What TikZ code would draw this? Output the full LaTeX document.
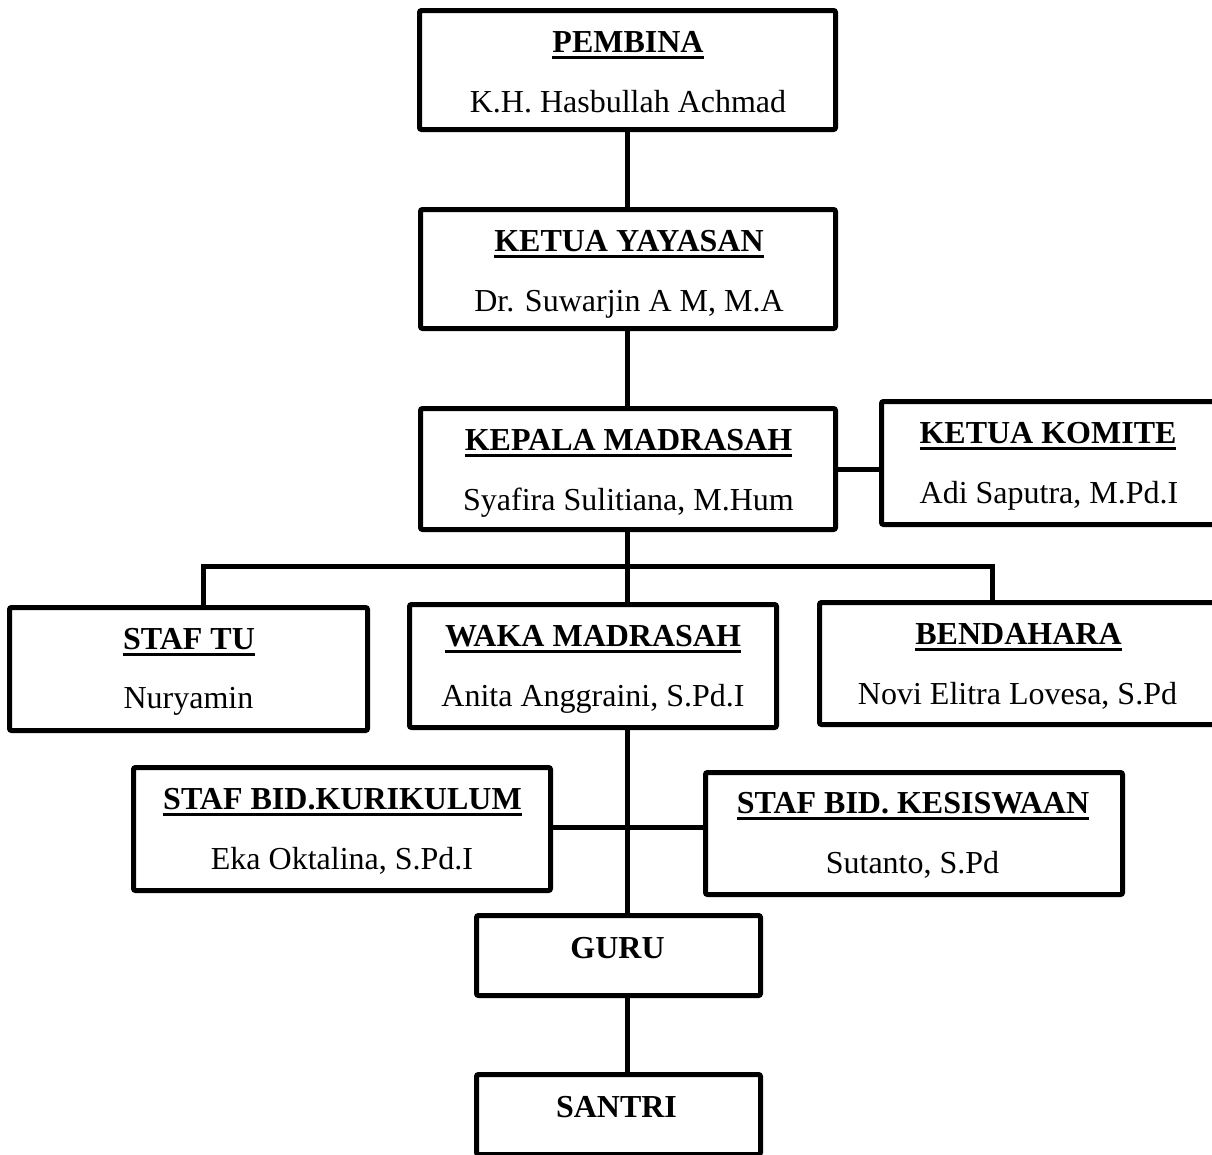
\documentclass[tikz,border=0pt]{standalone}
\usepackage{fontspec}
\setmainfont{Liberation Serif}
\newcommand\myul[1]{\setbox0\hbox{\bfseries #1}\rlap{\rule[-6.5pt]{\wd0}{3pt}}\box0}
\begin{document}
\begin{tikzpicture}[x=1pt,y=-1pt,
  box/.style={draw, line width=5pt, rounded corners=2pt, inner sep=0pt, outer sep=0pt},
  txt/.style={anchor=base, inner sep=0pt, font=\fontsize{32}{38}\selectfont},
  ttl/.style={txt, font=\fontsize{32}{38}\selectfont\bfseries},
  conn/.style={line width=5pt}]
\useasboundingbox (0,0) rectangle (1212,1154);
\clip (0,0) rectangle (1212,1154);
\fill[white] (0,0) rectangle (1212,1154);

% boxes
\node[box, minimum width=416pt, minimum height=119pt] (pembina) at (627.5,70) {};
\node[box, minimum width=415pt, minimum height=119pt] (yayasan) at (628,269) {};
\node[box, minimum width=415pt, minimum height=121pt] (kepala) at (628,469) {};
\node[box, minimum width=334pt, minimum height=123pt] (komite) at (1048.5,463) {};
\node[box, minimum width=358pt, minimum height=123pt] (staftu) at (188.5,669) {};
\node[box, minimum width=367pt, minimum height=123pt] (waka) at (593,666) {};
\node[box, minimum width=396pt, minimum height=122pt] (bend) at (1017.5,663.5) {};
\node[box, minimum width=417pt, minimum height=123pt] (kurik) at (342,829) {};
\node[box, minimum width=417pt, minimum height=122pt] (kesis) at (914,833.5) {};
\node[box, minimum width=284pt, minimum height=80pt] (guru) at (618.5,955.5) {};
\node[box, minimum width=284pt, minimum height=80pt] (santri) at (618.5,1114.5) {};

% texts
\node[ttl] (pembinaT) at (628,52) {\myul{PEMBINA}};
\node[txt] (pembinaN) at (628,112) {K.H. Hasbullah Achmad};
\node[ttl] (yayasanT) at (629,251) {\myul{KETUA YAYASAN}};
\node[txt] (yayasanN) at (629,311) {Dr. Suwarjin A M, M.A};
\node[ttl] (kepalaT) at (628.5,450) {\myul{KEPALA MADRASAH}};
\node[txt] (kepalaN) at (628.5,510) {Syafira Sulitiana, M.Hum};
\node[ttl] (komiteT) at (1048,443) {\myul{KETUA KOMITE}};
\node[txt] (komiteN) at (1049,503) {Adi Saputra, M.Pd.I};
\node[ttl] (staftuT) at (189,649) {\myul{STAF TU}};
\node[txt] (staftuN) at (188.5,708) {Nuryamin};
\node[ttl] (wakaT) at (593,646) {\myul{WAKA MADRASAH}};
\node[txt] (wakaN) at (593,706) {Anita Anggraini, S.Pd.I};
\node[ttl] (bendT) at (1018.5,644) {\myul{BENDAHARA}};
\node[txt] (bendN) at (1017.5,704) {Novi Elitra Lovesa, S.Pd};
\node[ttl] (kurikT) at (342.5,809) {\myul{STAF BID.KURIKULUM}};
\node[txt] (kurikN) at (342,869) {Eka Oktalina, S.Pd.I};
\node[ttl] (kesisT) at (913,813) {\myul{STAF BID. KESISWAAN}};
\node[txt] (kesisN) at (912.5,873) {Sutanto, S.Pd};
\node[ttl] (guruT) at (617.5,958) {GURU};
\node[ttl] (santriT) at (616.5,1117) {SANTRI};

% connectors
\coordinate (spine) at (627,0);
\coordinate (barL) at (203,566);
\coordinate (barR) at (992,566);
\draw[conn] (spine |- pembina.south) -- (spine |- yayasan.north);
\draw[conn] (spine |- yayasan.south) -- (spine |- kepala.north);
\draw[conn] (kepala.east) -- (kepala.east -| komite.west);
\draw[conn] (spine |- kepala.south) -- (spine |- waka.north);
\draw[conn] (barL |- staftu.north) -- (barL) -- (barR) -- (barR |- bend.north);
\draw[conn] (spine |- waka.south) -- (spine |- guru.north);
\draw[conn] (kurik.east |- 0,827) -- (kesis.west |- 0,827);
\draw[conn] (spine |- guru.south) -- (spine |- santri.north);
\end{tikzpicture}
\end{document}
